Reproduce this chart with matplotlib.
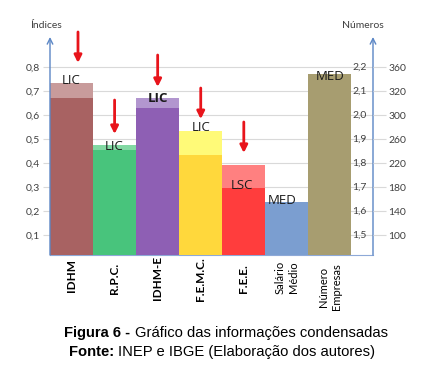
import matplotlib
matplotlib.use("Agg")
import matplotlib.pyplot as plt
import matplotlib.transforms as mtransforms

plt.rcParams['font.family'] = ['Lato', 'DejaVu Sans']

# dados
categorias = ["IDHM", "R.P.C.", "IDHM-E", "F.E.M.C.", "F.E.E.", "Salário\nMédio", "Número\nEmpresas"]
valor = [0.671, 0.454, 0.630, 0.433, 0.297, 0.239, 0.771]
limite = [0.733, 0.475, 0.672, 0.535, 0.392, None, None]
cor = ["#A86262", "#48C47C", "#8E5FB4", "#FFD83C", "#FF3D3D", "#7B9ED0", "#A79D70"]
cor_clara = ["#C89B9B", "#82D8A3", "#B296CF", "#FFFA78", "#FF8080", None, None]
rotulos = ["LIC", "LIC", "LIC", "LIC", "LSC", "MED", "MED"]
rotulo_y = [0.742, 0.467, 0.667, 0.546, 0.308, 0.246, 0.762]
rotulo_x = [0.0, 0.0, 0.0, 0.0, -0.05, -0.1, 0.0]
setas = [(0.15, 0.946, 0.817), (1, 0.6625, 0.521), (2, 0.85, 0.717),
         (3, 0.7125, 0.583), (4, 0.571, 0.442)]
esq_ticks = [0.1, 0.2, 0.3, 0.4, 0.5, 0.6, 0.7, 0.8]
esq_labels = ["0,1", "0,2", "0,3", "0,4", "0,5", "0,6", "0,7", "0,8"]
dir_interno = ["1,5", "1,6", "1,7", "1,8", "1,9", "2,0", "2,1", "2,2"]
dir_externo = ["100", "140", "180", "220", "260", "300", "320", "360"]

fig = plt.figure(figsize=(4.27, 3.83), dpi=100)
ax = fig.add_axes([50/427, 1-255/383, 323/427, 218/383])

x = list(range(len(categorias)))
for i in x:
    if limite[i] is not None:
        ax.bar(i, limite[i], width=1.0, color=cor_clara[i], zorder=2)
    ax.bar(i, valor[i], width=1.0, color=cor[i], zorder=3)
    peso = "bold" if i == 2 else "normal"
    ax.text(i + rotulo_x[i], rotulo_y[i], rotulos[i], ha="center", va="center",
            fontsize=9.5, fontweight=peso, color="#1a1a1a", zorder=5,
            family=["Open Sans", "DejaVu Sans"])

for xs, y0, y1 in setas:
    ax.annotate("", xy=(xs, y1), xytext=(xs, y0), annotation_clip=False,
                arrowprops=dict(arrowstyle="-|>", color="#E8141B", lw=2,
                                mutation_scale=11, shrinkA=0, shrinkB=0), zorder=6)

ax.set_xlim(-0.5, 7.0)
ax.set_ylim(0.017, 0.925)
ax.set_yticks(esq_ticks)
ax.set_yticklabels(esq_labels, fontsize=7.5, color="#404040")
ax.set_xticks([])
ax.grid(axis="y", color="#d9d9d9", lw=0.8, zorder=0)
ax.tick_params(axis="y", length=5, color="#d9d9d9", pad=2)
for s in ["top", "left", "right"]:
    ax.spines[s].set_visible(False)
ax.spines["bottom"].set_color("#8EA9D8")

ax2 = ax.twinx()
ax2.set_ylim(ax.get_ylim())
ax2.set_yticks(esq_ticks)
ax2.set_yticklabels(dir_externo, fontsize=7.5, color="#404040")
ax2.tick_params(axis="y", length=9, color="#d9d9d9", pad=2)
for s in ["top", "left", "right", "bottom"]:
    ax2.spines[s].set_visible(False)

trans = mtransforms.blended_transform_factory(ax.transAxes, ax.transData)
for t, lab in zip(esq_ticks, dir_interno):
    ax.text(0.98, t, lab, transform=trans, ha="right", va="center",
            fontsize=7.5, color="#404040", zorder=4)

# eixos com seta
for xa in [0, 1]:
    ax.annotate("", xy=(xa, 1.0), xytext=(xa, 0), xycoords="axes fraction",
                annotation_clip=False,
                arrowprops=dict(arrowstyle="->", color="#5B86C5", lw=1,
                                mutation_scale=10, shrinkA=0, shrinkB=0))

fig.text(46/427, 1-26/383, "Índices", ha="center", va="center", fontsize=7.5, color="#404040")
fig.text(363/427, 1-26/383, "Números", ha="center", va="center", fontsize=7.5, color="#404040")

# rotulos das categorias
xt = mtransforms.blended_transform_factory(ax.transData, fig.transFigure)
centro_y = [276, 278, 278, 279, 279, 277, 287]
for i, nome in enumerate(categorias):
    if i < 5:
        ax.text(i, 1-centro_y[i]/383, nome, transform=xt, rotation=90, ha="center",
                va="center", fontsize=8.5, fontweight="bold", color="#000000")
    else:
        ax.text(i, 1-centro_y[i]/383, nome, transform=xt, rotation=90, ha="center",
                va="center", fontsize=8, color="#000000", multialignment="center",
                linespacing=1.3)

# legenda da figura: parte em negrito + parte normal, centradas juntas
renderer = fig.canvas.get_renderer()
legendas = [("Figura 6 - ", "Gráfico das informações condensadas", 226, 333),
            ("Fonte: ", "INEP e IBGE (Elaboração dos autores)", 222, 352)]
for negrito, normal, cx, cy in legendas:
    t1 = fig.text(0, 1-cy/383, negrito, ha="left", va="center", fontsize=10.6,
                  fontweight="bold", family="Liberation Sans")
    t2 = fig.text(0, 1-cy/383, normal, ha="left", va="center", fontsize=10.6,
                  family="Liberation Sans")
    w1 = t1.get_window_extent(renderer).width
    w2 = t2.get_window_extent(renderer).width
    x0 = cx - (w1 + w2) / 2
    t1.set_x(x0/427)
    t2.set_x((x0 + w1)/427)

fig.savefig("out.png", dpi=100)
